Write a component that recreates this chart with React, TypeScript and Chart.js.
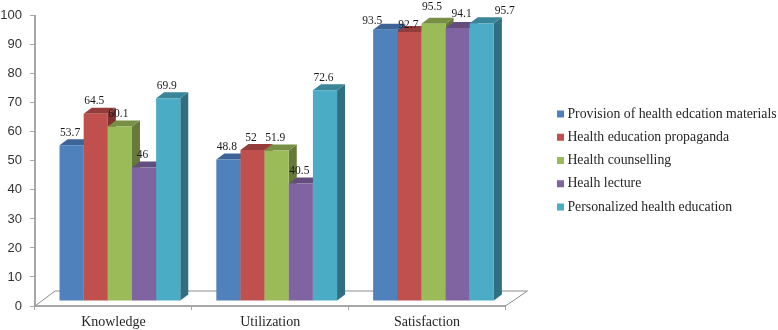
import React, { useEffect, useRef } from "react";
import { Chart, registerables } from "chart.js";

Chart.register(...registerables);

const categories = ["Knowledge", "Utilization", "Satisfaction"];
const seriesNames = [
  "Provision of health edcation materials",
  "Health education propaganda",
  "Health counselling",
  "Healh lecture",
  "Personalized health education",
];
const provision = [53.7, 48.8, 93.5];
const propaganda = [64.5, 52, 92.7];
const counselling = [60.1, 51.9, 95.5];
const lecture = [46, 40.5, 94.1];
const personalized = [69.9, 72.6, 95.7];
const seriesValues = [provision, propaganda, counselling, lecture, personalized];

const frontColors = ["#4F81BD", "#C0504D", "#9BBB59", "#8064A2", "#4BACC6"];
const topColors = ["#3D6496", "#943C3A", "#778F44", "#634D7D", "#3A8599"];
const sideColors = ["#335480", "#7E3230", "#65793A", "#54416A", "#2F6F81"];

// Style constants: the 3-D look of the chart
const DEPTH_X = 8;
const DEPTH_Y = 6;
const SHIFT_X = 6.5;
const SHIFT_Y = -5;
const BACK_Y = 15;
const BACK_X_LEFT = 20;
const BACK_X_RIGHT = 22;
// Label nudges [dx, dy] for the crowded Satisfaction group, by series
const satisfactionNudges = [
  [-13, -9],
  [-1, -7],
  [-1.5, -17],
  [4, -14],
  [23, -12],
];
const defaultNudge = [-1.5, -12.5];

const threeD = {
  id: "threeD",
  beforeDatasetsDraw(chart: any) {
    const { ctx, chartArea } = chart;
    const { left, right, bottom } = chartArea;
    ctx.save();
    ctx.strokeStyle = "#8c8c8c";
    ctx.lineWidth = 1;
    ctx.beginPath();
    ctx.moveTo(left, bottom);
    ctx.lineTo(left + BACK_X_LEFT, bottom - BACK_Y);
    ctx.lineTo(right + BACK_X_RIGHT, bottom - BACK_Y);
    ctx.lineTo(right, bottom);
    ctx.stroke();
    ctx.restore();

    // Left-most series first, so each bar's front covers its left neighbour's side
    seriesNames.forEach((_, i) => {
      ctx.save();
      ctx.translate(SHIFT_X, SHIFT_Y);
      chart.getDatasetMeta(i).data.forEach((bar: any) => {
        const w = bar.width / 2;
        const l = bar.x - w;
        const r = bar.x + w;
        const t = bar.y;
        const b = bar.base;
        ctx.fillStyle = sideColors[i];
        ctx.beginPath();
        ctx.moveTo(r, t);
        ctx.lineTo(r + DEPTH_X, t - DEPTH_Y);
        ctx.lineTo(r + DEPTH_X, b - DEPTH_Y);
        ctx.lineTo(r, b);
        ctx.closePath();
        ctx.fill();
        ctx.fillStyle = topColors[i];
        ctx.beginPath();
        ctx.moveTo(l, t);
        ctx.lineTo(l + DEPTH_X, t - DEPTH_Y);
        ctx.lineTo(r + DEPTH_X, t - DEPTH_Y);
        ctx.lineTo(r, t);
        ctx.closePath();
        ctx.fill();
        bar.draw(ctx);
      });
      ctx.restore();
    });

    ctx.save();
    ctx.font = "11.5px 'Liberation Serif'";
    ctx.fillStyle = "#1a1a1a";
    ctx.textAlign = "center";
    ctx.textBaseline = "middle";
    chart.data.datasets.forEach((ds: any, i: number) => {
      chart.getDatasetMeta(i).data.forEach((bar: any, j: number) => {
        const n = j === 2 ? satisfactionNudges[i] : defaultNudge;
        ctx.fillText(String(ds.data[j]), bar.x + SHIFT_X + n[0], bar.y + SHIFT_Y + n[1]);
      });
    });
    ctx.restore();
    return false;
  },
  afterLayout(chart: any) {
    const lg = chart.legend;
    if (!lg) return;
    const dx = 551 - lg.left;
    lg.left += dx;
    lg.right += dx;
    const h = lg.bottom - lg.top;
    lg.top = 160.5 - h / 2;
    lg.bottom = lg.top + h;
  },
};

export default function App() {
  const ref = useRef<HTMLCanvasElement>(null);
  useEffect(() => {
    const chart = new Chart(ref.current as HTMLCanvasElement, {
      type: "bar",
      plugins: [threeD],
      data: {
        labels: categories,
        datasets: seriesNames.map((label, i) => ({
          label,
          data: seriesValues[i],
          backgroundColor: frontColors[i],
          borderWidth: 0,
        })),
      },
      options: {
        responsive: false,
        animation: false,
        layout: { padding: { top: 14, right: 37, left: 0, bottom: 0 } },
        plugins: {
          tooltip: { enabled: false },
          title: { display: false },
          legend: {
            position: "right",
            maxWidth: 260,
            labels: {
              usePointStyle: true,
              pointStyle: "rect",
              boxWidth: 0.01,
              boxHeight: 7,
              padding: 9.5,
              color: "#262626",
              font: { family: "'Liberation Serif'", size: 13.8 },
            },
          },
        },
        scales: {
          x: {
            afterFit: (s: any) => {
              s.height = 24;
            },
            grid: { drawOnChartArea: false, tickLength: 4, color: "#a6a6a6", lineWidth: 1 },
            border: { color: "#a6a6a6", width: 2 },
            ticks: {
              color: "#262626",
              padding: 4,
              font: { family: "'Liberation Serif'", size: 14 },
            },
          },
          y: {
            min: 0,
            max: 100,
            afterFit: (s: any) => {
              s.width = 35;
            },
            grid: { drawOnChartArea: false, tickLength: 5, color: "#a6a6a6", lineWidth: 1 },
            border: { color: "#a6a6a6", width: 2 },
            ticks: {
              stepSize: 10,
              color: "#333333",
              padding: 8,
              font: { family: "'Liberation Sans'", size: 13 },
            },
          },
        },
        datasets: { bar: { categoryPercentage: 0.77, barPercentage: 1 } },
      },
    } as any);
    return () => chart.destroy();
  }, []);
  return (
    <div style={{ position: "fixed", left: 0, top: 0, width: 778, height: 330, background: "#fff" }}>
      <canvas ref={ref} width={778} height={330} style={{ display: "block" }} />
    </div>
  );
}
